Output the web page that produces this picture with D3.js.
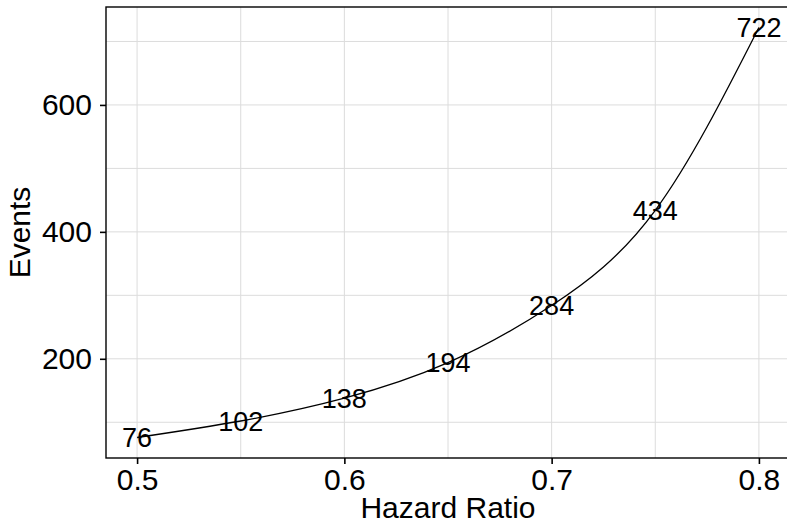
<!DOCTYPE html>
<html>
<head>
<meta charset="utf-8">
<script src="https://cdn.jsdelivr.net/npm/d3@7"></script>
<style>
  body { margin: 0; background: #fff; }
  svg { display: block; font-family: "Liberation Sans", Arial, sans-serif; }
</style>
</head>
<body>
<svg id="chart" width="787" height="523"></svg>
<script>
// Data
const hazardRatio = [0.5, 0.55, 0.6, 0.65, 0.7, 0.75, 0.8];
const events = [76, 102, 138, 194, 284, 434, 722];
const xTicks = [0.5, 0.6, 0.7, 0.8];
const xMinor = [0.55, 0.65, 0.75];
const yTicks = [200, 400, 600];
const yMinor = [100, 300, 500, 700];

const svg = d3.select("#chart");

// panel box (right edge runs past the window, like the reference)
const margin = { top: 7, left: 106 };
const panelW = 684;
const panelH = 451;

// ggplot style 5% expansion
const xPad = (d3.max(hazardRatio) - d3.min(hazardRatio)) * 0.05;
const yPad = (d3.max(events) - d3.min(events)) * 0.05;

const x = d3.scaleLinear()
    .domain([d3.min(hazardRatio) - xPad, d3.max(hazardRatio) + xPad])
    .range([0, panelW]);
const y = d3.scaleLinear()
    .domain([d3.min(events) - yPad, d3.max(events) + yPad])
    .range([panelH, 0]);

const g = svg.append("g")
    .attr("transform", "translate(" + margin.left + "," + margin.top + ")");

// Gridlines
const gridColor = "#dcdcdc";
g.selectAll(".vgrid")
    .data(xTicks.concat(xMinor))
    .enter().append("line")
    .attr("x1", d => x(d)).attr("x2", d => x(d))
    .attr("y1", 0).attr("y2", panelH)
    .attr("stroke", gridColor).attr("stroke-width", 1);
g.selectAll(".hgrid")
    .data(yTicks.concat(yMinor))
    .enter().append("line")
    .attr("x1", 0).attr("x2", panelW)
    .attr("y1", d => y(d)).attr("y2", d => y(d))
    .attr("stroke", gridColor).attr("stroke-width", 1);

// Curve
const line = d3.line()
    .x((d, i) => x(hazardRatio[i]))
    .y(d => y(d))
    .curve(d3.curveNatural);

g.append("path")
    .datum(events)
    .attr("d", line)
    .attr("fill", "none")
    .attr("stroke", "#000")
    .attr("stroke-width", 1.3);

// Point labels
g.selectAll(".lbl")
    .data(events)
    .enter().append("text")
    .attr("x", (d, i) => x(hazardRatio[i]))
    .attr("y", d => y(d))
    .attr("dy", "0.36em")
    .attr("text-anchor", "middle")
    .attr("font-size", 27)
    .attr("fill", "#000")
    .text(d => d);

// Panel border
g.append("rect")
    .attr("width", panelW).attr("height", panelH)
    .attr("fill", "none")
    .attr("stroke", "#000")
    .attr("stroke-width", 1.4);

// Axes
const xAxis = g.append("g")
    .attr("transform", "translate(0," + panelH + ")")
    .call(d3.axisBottom(x).tickValues(xTicks).tickFormat(d3.format(".1f")).tickSize(6).tickPadding(5));
const yAxis = g.append("g")
    .call(d3.axisLeft(y).tickValues(yTicks).tickSize(6).tickPadding(8));

[xAxis, yAxis].forEach(a => {
    a.select(".domain").remove();
    a.selectAll(".tick line").attr("stroke", "#000").attr("stroke-width", 1.6);
    a.selectAll(".tick text")
        .attr("fill", "#000")
        .attr("font-size", 30)
        .attr("font-family", "Liberation Sans, Arial, sans-serif");
});

// Axis titles
svg.append("text")
    .attr("x", margin.left + panelW / 2)
    .attr("y", 518)
    .attr("text-anchor", "middle")
    .attr("font-size", 30)
    .text("Hazard Ratio");

svg.append("text")
    .attr("transform", "translate(30," + (margin.top + panelH / 2) + ") rotate(-90)")
    .attr("text-anchor", "middle")
    .attr("font-size", 30)
    .text("Events");
</script>
</body>
</html>
